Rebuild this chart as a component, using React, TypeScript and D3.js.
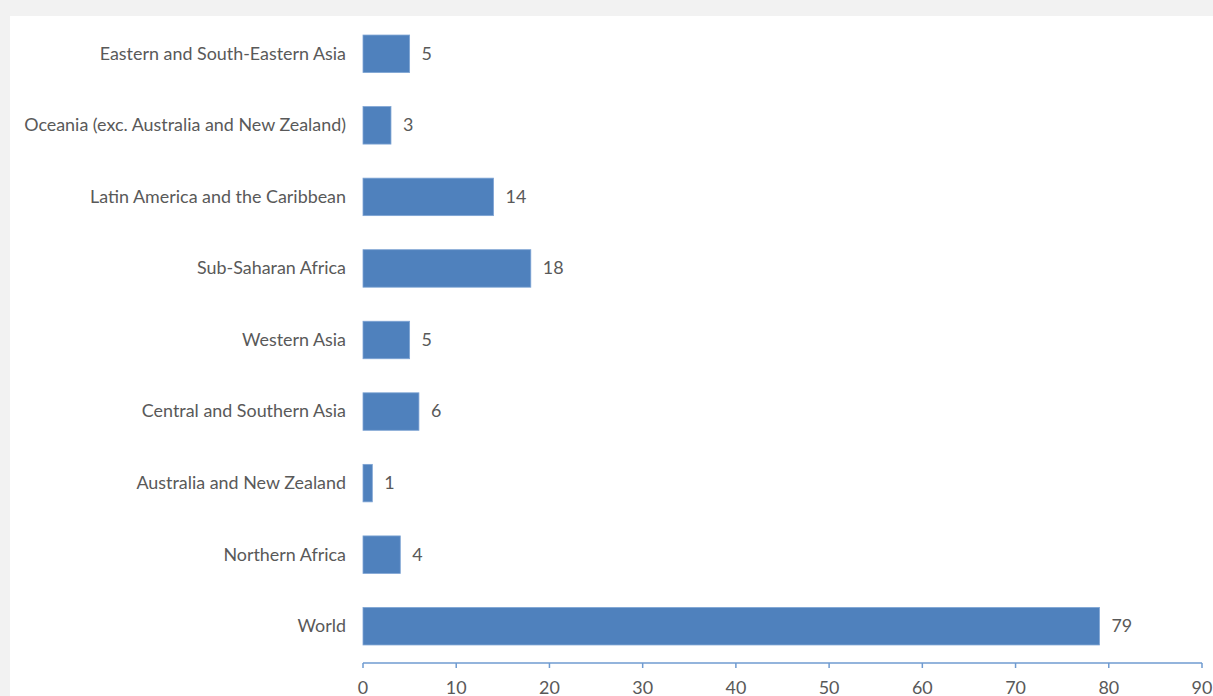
import React from "react";
import * as d3 from "d3";

const categories = [
  "Eastern and South-Eastern Asia",
  "Oceania (exc. Australia and New Zealand)",
  "Latin America and the Caribbean",
  "Sub-Saharan Africa",
  "Western Asia",
  "Central and Southern Asia",
  "Australia and New Zealand",
  "Northern Africa",
  "World",
];
const values = [5, 3, 14, 18, 5, 6, 1, 4, 79];
const xTicks = [0, 10, 20, 30, 40, 50, 60, 70, 80, 90];

const W = 1213;
const H = 696;
const FONT = "Lato, 'Open Sans', sans-serif";
const TEXT = "#595959";
const FS = 17.9;

export default function App() {
  const x = d3.scaleLinear().domain([0, 90]).range([363, 1202]);
  const y = d3
    .scaleBand<string>()
    .domain(categories)
    .range([18, 662])
    .paddingInner(0.476)
    .paddingOuter(0.238);
  const axisY = 663;
  return (
    <svg
      width={W}
      height={H}
      style={{ position: "absolute", left: 0, top: 0, display: "block" }}
    >
      <rect x={0} y={0} width={W} height={H} fill="#f2f2f2" />
      <rect x={10} y={16} width={W - 10} height={H - 16} fill="#ffffff" />
      {categories.map((c, i) => {
        const yy = y(c)!;
        const bw = y.bandwidth();
        return (
          <g key={c}>
            <rect
              x={x(0)}
              y={yy}
              width={x(values[i]) - x(0)}
              height={bw}
              fill="#4f81bd"
              stroke="#7ea4d4"
              strokeWidth={0.8}
            />
            <text
              x={x(0) - 17}
              y={yy + bw / 2}
              dy="0.33em"
              textAnchor="end"
              fontFamily={FONT}
              fontSize={FS}
              fill={TEXT}
            >
              {c}
            </text>
            <text
              x={x(values[i]) + 12}
              y={yy + bw / 2}
              dy="0.33em"
              textAnchor="start"
              fontFamily={FONT}
              fontSize={FS}
              fill={TEXT}
            >
              {values[i]}
            </text>
          </g>
        );
      })}
      <line x1={x(0)} x2={x(90)} y1={axisY} y2={axisY} stroke="#6f9bd1" strokeWidth={1.5} />
      {xTicks.map((t) => (
        <g key={t}>
          <line x1={x(t)} x2={x(t)} y1={axisY} y2={axisY + 5} stroke="#6f9bd1" strokeWidth={1.5} />
          <text
            x={x(t)}
            y={688}
            dy="0.35em"
            textAnchor="middle"
            fontFamily={FONT}
            fontSize={FS}
            fill={TEXT}
          >
            {t}
          </text>
        </g>
      ))}
    </svg>
  );
}
